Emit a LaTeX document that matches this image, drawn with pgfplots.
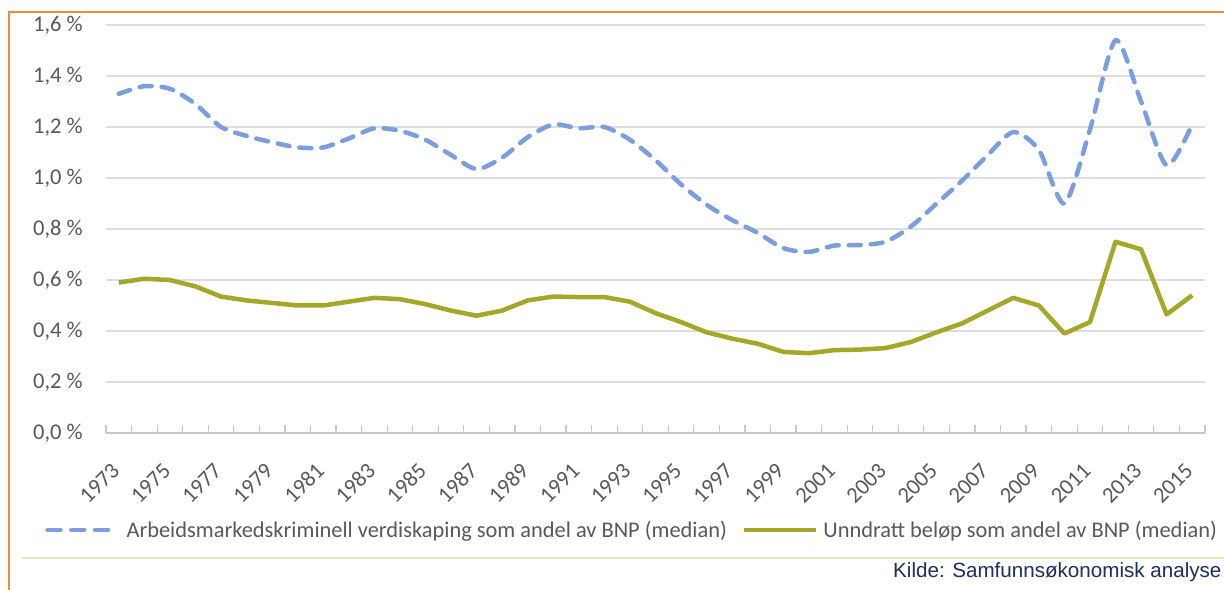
\documentclass[border=0pt]{standalone}
\usepackage{fontspec}
\setmainfont{Carlito}
\newfontfamily\arialfont{Liberation Sans}
\usepackage{pgfplots}
\pgfplotsset{compat=1.18}
\usepackage{pgfplotstable}

\definecolor{cblue}{RGB}{124,158,222}
\definecolor{cgreen}{RGB}{166,166,40}
\definecolor{tgray}{RGB}{89,89,89}
\definecolor{ggray}{RGB}{222,222,222}
\definecolor{agray}{RGB}{200,200,200}
\definecolor{corange}{RGB}{242,140,56}
\definecolor{cyell}{RGB}{230,234,190}
\definecolor{cnavy}{RGB}{31,45,96}

\pgfplotstableread{
year blue green
1973 1.33 0.59
1974 1.36 0.605
1975 1.35 0.60
1976 1.29 0.575
1977 1.20 0.535
1978 1.165 0.52
1979 1.14 0.51
1980 1.12 0.50
1981 1.12 0.50
1982 1.155 0.515
1983 1.195 0.53
1984 1.185 0.525
1985 1.15 0.505
1986 1.09 0.48
1987 1.035 0.46
1988 1.08 0.48
1989 1.16 0.52
1990 1.21 0.535
1991 1.195 0.533
1992 1.20 0.533
1993 1.15 0.515
1994 1.07 0.47
1995 0.975 0.435
1996 0.895 0.395
1997 0.835 0.37
1998 0.785 0.35
1999 0.725 0.318
2000 0.71 0.313
2001 0.735 0.325
2002 0.737 0.327
2003 0.75 0.333
2004 0.81 0.357
2005 0.90 0.395
2006 0.99 0.43
2007 1.09 0.48
2008 1.18 0.53
2009 1.11 0.50
2010 0.90 0.39
2011 1.19 0.435
2012 1.54 0.75
2013 1.30 0.72
2014 1.05 0.465
2015 1.21 0.54
}\data

\begin{document}
\begin{tikzpicture}
\useasboundingbox (0,0) rectangle (1224bp,590bp);
\fill[white] (0,0) rectangle (1224bp,590bp);
\draw[corange, line width=2.5bp] (9bp,-5bp) -- (9bp,578bp) -- (1230bp,578bp);
\draw[cyell, line width=1.5bp] (22bp,32bp) -- (1230bp,32bp);
\node[anchor=base west, inner sep=0pt, font=\arialfont\fontsize{20.6bp}{24bp}\selectfont, text=cnavy] at (893bp,13bp) {Kilde: Samfunnsøkonomisk analyse};
\begin{axis}[
  at={(106bp,157bp)}, anchor=south west,
  scale only axis, width=1099bp, height=408bp,
  xmin=1972.5, xmax=2015.5, ymin=0, ymax=1.6,
  clip=false,
  axis line style={draw=none},
  xtick={1973,1975,...,2015},
  minor xtick={1972.5,1973.5,...,2015.5},
  ytick={0.2,0.4,0.6,0.8,1.0,1.2,1.4,1.6},
  extra y ticks={0},
  ymajorgrids,
  grid style={ggray, line width=1.5bp},
  extra y tick style={grid style={agray, line width=1.3bp}},
  xtick pos=bottom, ytick pos=left,
  tick align=inside,
  major tick length=0pt, minor tick length=8bp,
  minor x tick style={agray, line width=1.2bp},
  major x tick style={draw=none},
  ytick style={draw=none},
  tick label style={font=\fontsize{22.5bp}{26bp}\selectfont, text=tgray},
  xticklabel={\pgfmathprintnumber[1000 sep={}, assume math mode=true]{\tick}},
  x tick label style={xshift=-3bp, yshift=-34bp, rotate=45, anchor=east, inner sep=0pt},
  yticklabel={\pgfmathprintnumber[fixed, fixed zerofill, precision=1, use comma, assume math mode=true]{\tick}~\%},
  y tick label style={anchor=east, inner sep=0pt, xshift=-23bp},
  legend columns=2,
  legend cell align=left,
  legend style={at={(-0.0573,-0.2377)}, anchor=west, draw=none, fill=none,
    inner sep=0pt, outer sep=0pt, column sep=0pt, row sep=0pt,
    nodes={inner sep=0pt, text=tgray, font=\fontsize{22.4bp}{26bp}\selectfont}},
]
\addplot[cblue, line width=4.5bp, line cap=round, dash pattern=on 12bp off 10bp, smooth, tension=0.45,
  legend image code/.code={\path (0bp,0bp) (79bp,0bp); \draw[cblue, line width=4.5bp, line cap=round, dash pattern=on 13bp off 10.75bp] (2.25bp,0bp) -- (62.75bp,0bp);}]
  table[x=year, y=blue] {\data};
\addlegendentry{Arbeidsmarkedskriminell verdiskaping som andel av BNP (median)}
\addplot[cgreen, line width=4.5bp, line join=round,
  legend image code/.code={\path (0bp,0bp) (92bp,0bp); \draw[cgreen, line width=4.5bp] (15bp,0bp) -- (87bp,0bp);}]
  table[x=year, y=green] {\data};
\addlegendentry{Unndratt beløp som andel av BNP (median)}
\end{axis}
\end{tikzpicture}
\end{document}
